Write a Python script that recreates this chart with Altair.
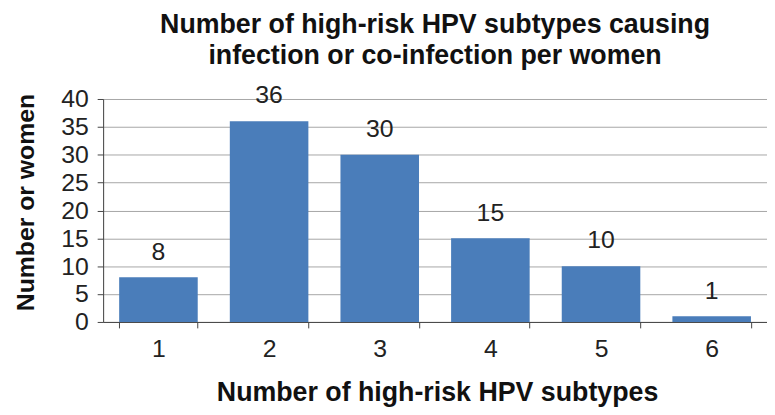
import altair as alt
import pandas as pd

categories = ["1", "2", "3", "4", "5", "6"]
counts = [8, 36, 30, 15, 10, 1]
y_ticks = [0, 5, 10, 15, 20, 25, 30, 35, 40]

df = pd.DataFrame({"subtypes": categories, "women": counts})

FONT = "Liberation Sans"

x = alt.X(
    "subtypes:N",
    sort=categories,
    scale=alt.Scale(paddingInner=0.29, paddingOuter=0.145),
    axis=alt.Axis(
        title="Number of high-risk HPV subtypes",
        labelAngle=0,
        labelFontSize=25,
        labelFont=FONT,
        labelColor="#222222",
        labelPadding=9,
        tickBand="extent",
        tickSize=6,
        tickColor="#444444",
        domainColor="#444444",
        titleFont=FONT,
        titleFontSize=27,
        titleFontWeight="bold",
        titleColor="#111111",
        titleX=337,
        titleY=79,
        titleBaseline="alphabetic",
        titleAlign="center",
        grid=False,
    ),
)

y = alt.Y(
    "women:Q",
    scale=alt.Scale(domain=[0, 40]),
    axis=alt.Axis(
        title="Number or women",
        values=y_ticks,
        tickCount=9,
        labelOverlap=False,
        labelFlush=False,
        labelFontSize=25,
        labelFont=FONT,
        labelColor="#222222",
        labelPadding=9,
        tickSize=6,
        tickColor="#444444",
        domainColor="#444444",
        gridColor="#a6a6a6",
        gridWidth=1,
        titleFont=FONT,
        titleFontSize=25,
        titleFontWeight="bold",
        titleColor="#111111",
        titleAngle=-90,
        titleX=-78,
        titleY=104,
        titleBaseline="middle",
        titleAlign="center",
    ),
)

base = alt.Chart(df).encode(x=x, y=y)

bars = base.mark_bar(color="#4a7dba")

labels = base.mark_text(
    baseline="alphabetic", dy=-18, fontSize=25, font=FONT, color="#222222"
).encode(text="women:Q")

chart = (
    alt.layer(bars, labels)
    .properties(
        width=670,
        height=225,
        autosize=alt.AutoSizeParams(type="none"),
        padding={"left": 96, "top": 90, "right": 0, "bottom": 84},
        title=alt.TitleParams(
            text=["Number of high-risk HPV subtypes causing", "infection or co-infection per women"],
            font=FONT,
            fontSize=27,
            fontWeight="bold",
            color="#111111",
            lineHeight=31,
            anchor="middle",
            offset=14,
        ),
    )
    .configure_view(stroke=None)
    .configure(background="white")
)

chart.save("out.html", embed_options={"renderer": "svg", "actions": False})
